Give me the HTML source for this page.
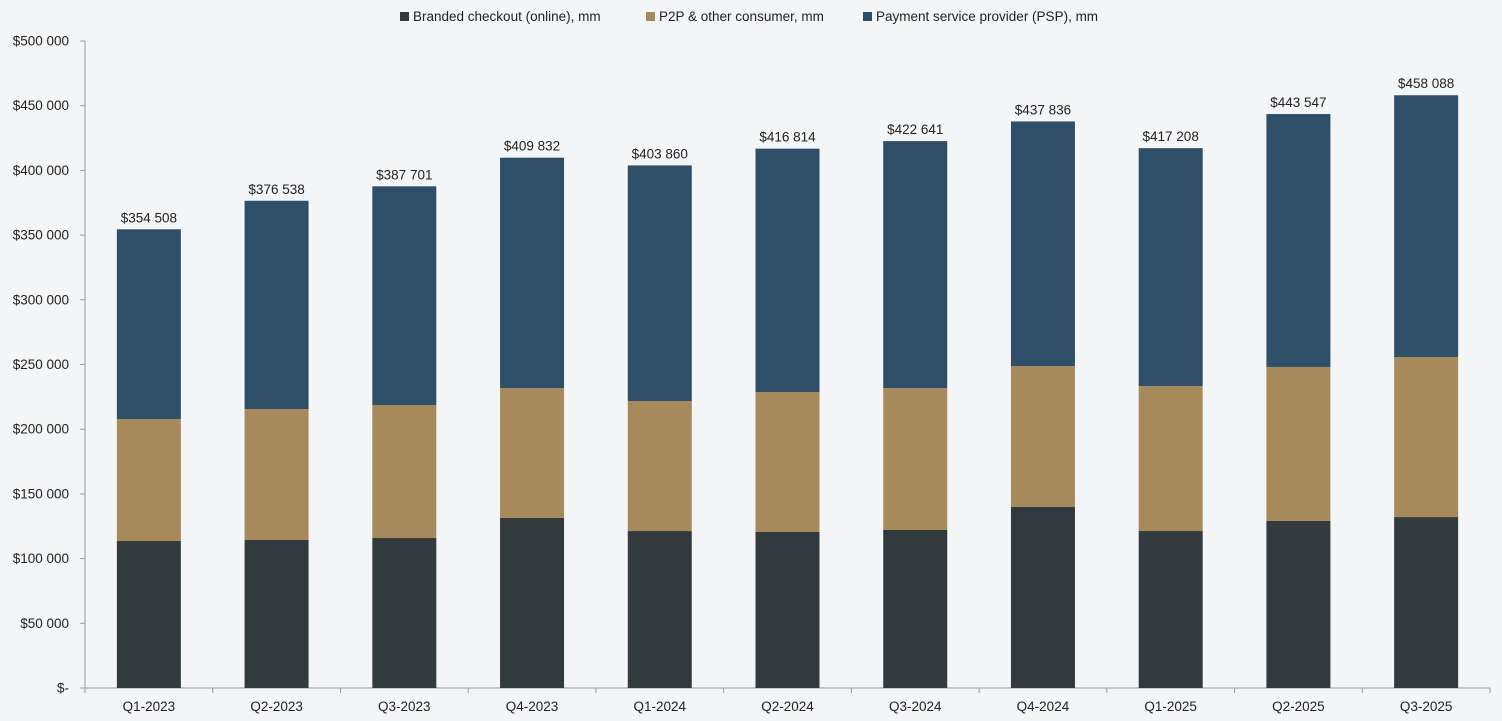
<!DOCTYPE html>
<html><head><meta charset="utf-8"><style>
body{margin:0;background:#f4f5f7;font-family:"Liberation Sans",Arial,sans-serif}
svg{display:block}
</style></head><body>
<svg id="chart" width="1502" height="721" xmlns="http://www.w3.org/2000/svg">
<rect width="1502" height="721" fill="#f4f5f7"/>
<g id="legend" font-size="13.5" fill="#222">
<g><rect x="400" y="12" width="9" height="9" fill="#323a3e"/><text x="413" y="21">Branded checkout (online), mm</text></g>
<g><rect x="646" y="12" width="9" height="9" fill="#a68a5c"/><text x="659" y="21">P2P &amp; other consumer, mm</text></g>
<g><rect x="863" y="12" width="9" height="9" fill="#2f4f69"/><text x="876" y="21">Payment service provider (PSP), mm</text></g>
</g>
<g id="axes"></g>
<g id="bars"></g>
</svg>
<script>
const categories=["Q1-2023","Q2-2023","Q3-2023","Q4-2023","Q1-2024","Q2-2024","Q3-2024","Q4-2024","Q1-2025","Q2-2025","Q3-2025"];
const branded=[113600,114400,115900,131400,121300,120600,122100,139900,121300,129100,132100];
const p2p=[94300,101200,102800,100400,100500,108100,109700,108900,112100,119000,123700];
const totals=[354508,376538,387701,409832,403860,416814,422641,437836,417208,443547,458088];
const totalLabels=["$354 508","$376 538","$387 701","$409 832","$403 860","$416 814","$422 641","$437 836","$417 208","$443 547","$458 088"];
const yTicks=[0,50000,100000,150000,200000,250000,300000,350000,400000,450000,500000];
const yTickLabels=["$-","$50 000","$100 000","$150 000","$200 000","$250 000","$300 000","$350 000","$400 000","$450 000","$500 000"];

const NS="http://www.w3.org/2000/svg";
const x0=85,x1=1490,y0=688,yTop=41,yMax=500000;
const band=(x1-x0)/categories.length,bw=64;
const y=v=>y0-(v/yMax)*(y0-yTop);
const xc=i=>x0+band*(i+0.5);
function mk(tag,attrs,parent){const e=document.createElementNS(NS,tag);for(const k in attrs)e.setAttribute(k,attrs[k]);parent.appendChild(e);return e;}
const axes=document.getElementById('axes'),bars=document.getElementById('bars');
const yl=mk('line',{x1:x0,y1:yTop,x2:x0,y2:y0,stroke:'#999'},axes);


const xl=mk('line',{x1:x0,y1:y0,x2:x1,y2:y0,stroke:'#999'},axes);


yTicks.forEach((v,i)=>{
 mk('line',{x1:x0-5,y1:y(v),x2:x0,y2:y(v),stroke:'#999'},axes);
 const t=mk('text',{x:x0-16,y:y(v)+4.5,'text-anchor':'end','font-size':13.5,fill:'#222'},axes);
 t.textContent=yTickLabels[i];
 
 
});
for(let i=0;i<=categories.length;i++){mk('line',{x1:x0+band*i,y1:y0,x2:x0+band*i,y2:y0+5,stroke:'#999'},axes);}
categories.forEach((c,i)=>{
 const t=mk('text',{x:xc(i),y:y0+23,'text-anchor':'middle','font-size':13.5,fill:'#222'},axes);
 t.textContent=c;
 
 
 const b=branded[i],p=p2p[i],tot=totals[i],psp=tot-b-p;
 const segs=[[0,b,'#323a3e','branded'],[b,b+p,'#a68a5c','p2p'],[b+p,tot,'#2f4f69','psp']];
 segs.forEach(s=>{
  const r=mk('rect',{x:xc(i)-bw/2,y:y(s[1]),width:bw,height:y(s[0])-y(s[1]),fill:s[2]},bars);
  
  
 });
 const lt=mk('text',{x:xc(i),y:y(tot)-7,'text-anchor':'middle','font-size':13.5,fill:'#222'},bars);
 lt.textContent=totalLabels[i];
 
 
});
</script>
</body></html>
